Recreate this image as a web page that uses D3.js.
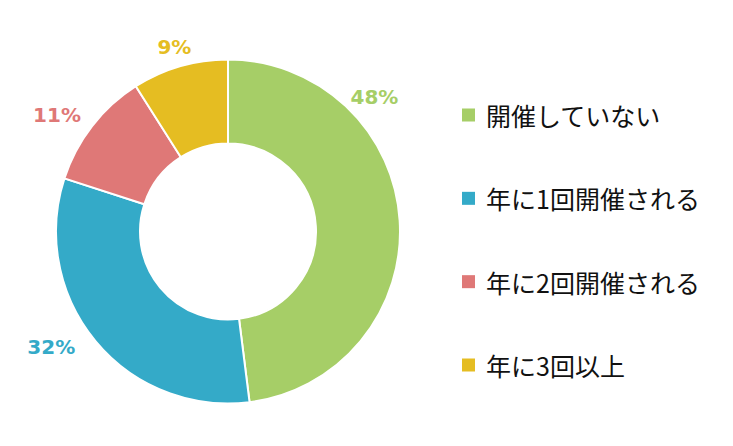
<!DOCTYPE html>
<html>
<head>
<meta charset="utf-8">
<script src="https://cdn.jsdelivr.net/npm/d3@7"></script>
<style>
  body { margin: 0; background: #fff; }
  .label { font-family: "DejaVu Sans", Verdana, sans-serif; font-weight: bold; font-size: 20px; }
  .legend text { font-family: "Noto Sans CJK JP", sans-serif; font-size: 25px; fill: #111; }
</style>
</head>
<body>
<div id="chart"></div>
<script>
// data
var categories = ["開催していない", "年に1回開催される", "年に2回開催される", "年に3回以上"];
var shares = [48, 32, 11, 9];
var colors = ["#A6CE67", "#34AAC8", "#DF7877", "#E5BD22"];

var width = 733, height = 446;
var cx = 228, cy = 231.5;
var outerR = 172, innerR = 88;

var svg = d3.select("#chart").append("svg")
    .attr("width", width)
    .attr("height", height);

var g = svg.append("g")
    .attr("transform", "translate(" + cx + "," + cy + ")");

var pie = d3.pie().sort(null).value(function(d) { return d; });
var arcs = pie(shares);

var arc = d3.arc().innerRadius(innerR).outerRadius(outerR);

g.selectAll("path")
    .data(arcs)
  .enter().append("path")
    .attr("d", arc)
    .attr("fill", function(d, i) { return colors[i]; })
    .attr("stroke", "#fff")
    .attr("stroke-width", 2);

// labels outside the ring (Excel best-fit style, nudged around the mid angle)
var labelR = [199, 211, 207, 192];
var labelShift = [-39, 6.5, -3.5, 0]; // degrees

g.selectAll(".label")
    .data(arcs)
  .enter().append("text")
    .attr("class", "label")
    .attr("text-anchor", "middle")
    .attr("dominant-baseline", "central")
    .attr("fill", function(d, i) { return colors[i]; })
    .attr("x", function(d, i) {
      var a = (d.startAngle + d.endAngle) / 2 + labelShift[i] * Math.PI / 180;
      return Math.sin(a) * labelR[i];
    })
    .attr("y", function(d, i) {
      var a = (d.startAngle + d.endAngle) / 2 + labelShift[i] * Math.PI / 180;
      return -Math.cos(a) * labelR[i];
    })
    .text(function(d) { return d.data + "%"; });

// legend
var ly = d3.scalePoint()
    .domain(categories)
    .range([115, 365]);

var legend = svg.append("g").attr("class", "legend");

var items = legend.selectAll("g")
    .data(categories)
  .enter().append("g")
    .attr("transform", function(d) { return "translate(462," + ly(d) + ")"; });

items.append("rect")
    .attr("x", 0)
    .attr("y", -6.5)
    .attr("width", 13)
    .attr("height", 13)
    .attr("fill", function(d, i) { return colors[i]; });

items.append("text")
    .attr("x", 24)
    .attr("y", 0)
    .attr("dominant-baseline", "central")
    .text(function(d) { return d; });
</script>
</body>
</html>
